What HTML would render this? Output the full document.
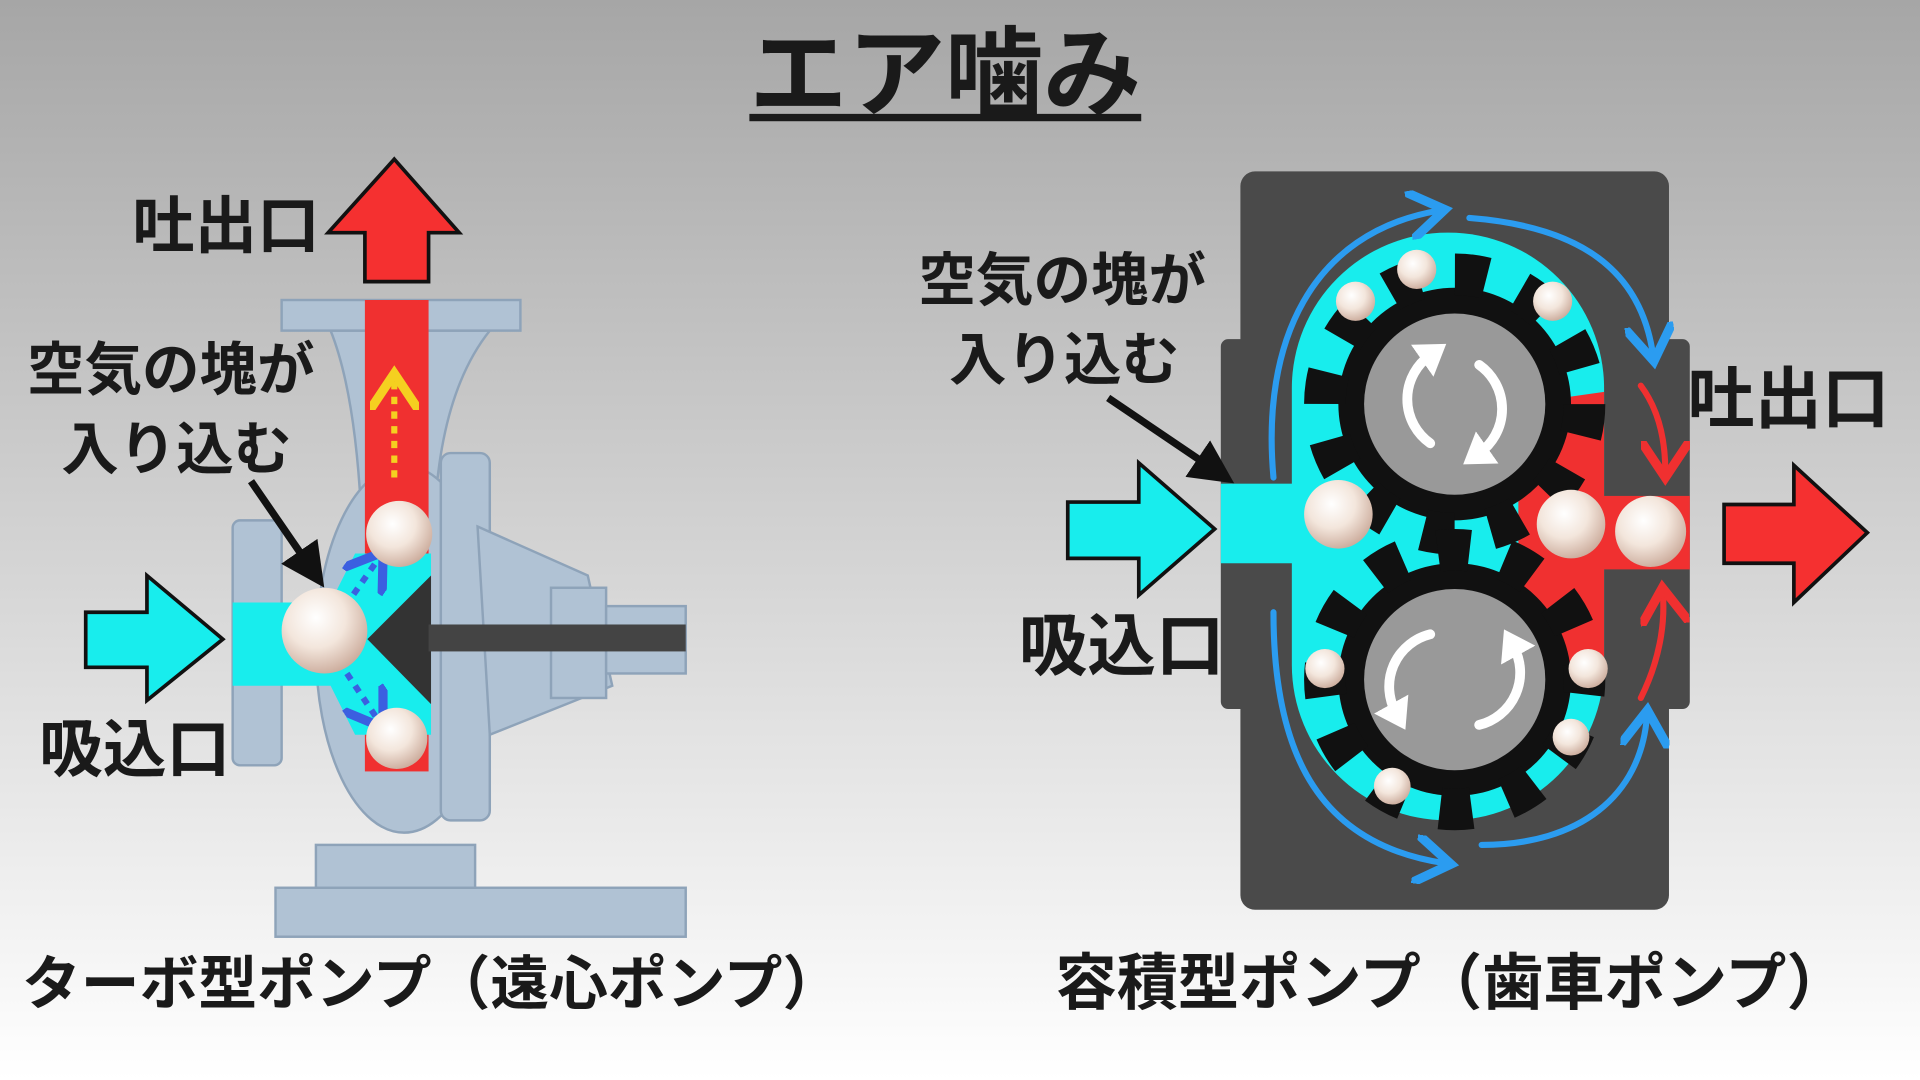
<!DOCTYPE html>
<html><head><meta charset="utf-8"><style>
html,body{margin:0;padding:0;width:1920px;height:1080px;overflow:hidden}
svg{display:block}
text{font-family:"Liberation Sans","Noto Sans CJK JP",sans-serif;font-weight:bold;fill:#1a1a1a}
</style></head><body>
<svg width="1920" height="1080" viewBox="0 0 1568 882" preserveAspectRatio="none" xmlns="http://www.w3.org/2000/svg">
<defs>
<linearGradient id="bg" x1="0" y1="0" x2="0" y2="1"><stop offset="0" stop-color="#a6a6a6"/><stop offset="1" stop-color="#ffffff"/></linearGradient>
<radialGradient id="pearl" cx="0.4" cy="0.35" r="0.7"><stop offset="0" stop-color="#ffffff"/><stop offset="0.5" stop-color="#f3e6dc"/><stop offset="1" stop-color="#c9a898"/></radialGradient>
<marker id="ah" markerWidth="8" markerHeight="8" refX="5" refY="4" orient="auto" markerUnits="strokeWidth"><path d="M0,0 L6,4 L0,8" fill="none" stroke="context-stroke" stroke-width="1.5"/></marker>
<marker id="wh" markerWidth="4" markerHeight="4" refX="1" refY="2" orient="auto" markerUnits="strokeWidth"><path d="M0,0 L3,2 L0,4z" fill="#fff"/></marker>
<marker id="bh" markerWidth="6" markerHeight="6" refX="4" refY="3" orient="auto"><path d="M0,0 L6,3 L0,6z" fill="#111"/></marker>
</defs>
<rect width="1568" height="882" fill="url(#bg)"/>
<text x="772" y="88" font-size="80" text-anchor="middle">エア噛み</text>
<rect x="612" y="93" width="320" height="6" fill="#1a1a1a"/>

<!-- left pump -->
<g fill="#b0c2d4" stroke="#8ea3b9" stroke-width="2">
<rect x="225" y="725" width="335" height="40"/>
<rect x="258" y="690" width="130" height="35"/>
<path d="M270,270 L400,270 Q360,320 355,420 L295,420 Q290,320 270,270z"/>
<ellipse cx="330" cy="530" rx="72" ry="150"/>
<rect x="360" y="370" width="40" height="300" rx="8"/>
<path d="M390,430 L480,470 L500,560 L400,600z"/>
<rect x="450" y="480" width="45" height="90"/>
<rect x="495" y="495" width="65" height="55"/>
<rect x="190" y="425" width="40" height="200" rx="6"/>
<rect x="230" y="245" width="195" height="25"/>
</g>
<rect x="298" y="245" width="52" height="385" fill="#f03030"/>
<polygon points="322,130 375,190 350,190 350,230 298,230 298,190 268,190" fill="#f53030" stroke="#111" stroke-width="3"/>
<path d="M190,492 L270,492 L290,452 L352,452 L352,600 L290,600 L270,560 L190,560z" fill="#18eded"/>
<polygon points="300,522 352,470 352,575" fill="#333"/>
<rect x="350" y="510" width="210" height="22" fill="#444"/>
<line x1="322" y1="390" x2="322" y2="310" stroke="#f5d020" stroke-width="5" stroke-dasharray="6,6" marker-end="url(#ah)"/>
<line x1="275" y1="505" x2="310" y2="455" stroke="#3b5fe0" stroke-width="5" stroke-dasharray="6,6" marker-end="url(#ah)"/>
<line x1="270" y1="530" x2="310" y2="590" stroke="#3b5fe0" stroke-width="5" stroke-dasharray="6,6" marker-end="url(#ah)"/>
<circle cx="326" cy="436" r="27" fill="url(#pearl)"/>
<circle cx="265" cy="515" r="35" fill="url(#pearl)"/>
<circle cx="324" cy="603" r="25" fill="url(#pearl)"/>
<polygon points="70,500 120,500 120,470 182,522 120,572 120,545 70,545" fill="#18eded" stroke="#111" stroke-width="3"/>
<line x1="205" y1="393" x2="258" y2="470" stroke="#111" stroke-width="6" marker-end="url(#bh)"/>
<text x="108" y="202" font-size="51">吐出口</text>
<text x="22" y="318" font-size="47">空気の塊が</text>
<text x="50" y="383" font-size="47">入り込む</text>
<text x="32" y="630" font-size="52">吸込口</text>
<text x="18" y="820" font-size="48">ターボ型ポンプ（遠心ポンプ）</text>

<!-- right gear pump -->
<rect x="1013" y="140" width="350" height="603" rx="12" fill="#4a4a4a"/>
<rect x="997" y="277" width="30" height="302" rx="6" fill="#4a4a4a"/>
<rect x="1350" y="277" width="30" height="302" rx="6" fill="#4a4a4a"/>
<rect x="1055" y="190" width="255" height="480" rx="127" fill="#18eded"/>
<path d="M1240,330 L1310,320 L1310,560 L1240,560z" fill="#f03030"/>
<rect x="997" y="395" width="65" height="65" fill="#18eded"/>
<rect x="1300" y="405" width="80" height="60" fill="#f03030"/>
<g>
<circle cx="1188" cy="330" r="95" fill="#111"/>
<circle cx="1188" cy="330" r="106" fill="none" stroke="#111" stroke-width="34" stroke-dasharray="26,29.5"/>
<circle cx="1188" cy="330" r="74" fill="#999"/>
<circle cx="1188" cy="555" r="95" fill="#111"/>
<circle cx="1188" cy="555" r="106" fill="none" stroke="#111" stroke-width="34" stroke-dasharray="26,29.5" stroke-dashoffset="14"/>
<circle cx="1188" cy="555" r="74" fill="#999"/>
</g>
<g fill="none" stroke="#fff" stroke-width="8" stroke-linecap="round">
<path d="M1168,362 A44,44 0 0 1 1168,290" marker-end="url(#wh)"/>
<path d="M1208,298 A44,44 0 0 1 1208,370" marker-end="url(#wh)"/>
<path d="M1168,518 A44,44 0 0 0 1140,582" marker-end="url(#wh)"/>
<path d="M1208,592 A44,44 0 0 0 1236,528" marker-end="url(#wh)"/>
</g>
<g fill="none" stroke="#2b9cf0" stroke-width="5" stroke-linecap="round">
<path d="M1040,390 C1030,280 1070,190 1175,172" marker-end="url(#ah)"/>
<path d="M1200,178 C1290,185 1340,220 1350,290" marker-end="url(#ah)"/>
<path d="M1040,500 C1040,620 1080,690 1180,705" marker-end="url(#ah)"/>
<path d="M1210,690 C1290,690 1340,650 1345,585" marker-end="url(#ah)"/>
</g>
<g fill="none" stroke="#f03030" stroke-width="5" stroke-linecap="round">
<path d="M1340,315 C1355,335 1360,360 1360,385" marker-end="url(#ah)"/>
<path d="M1340,570 C1355,540 1360,510 1358,485" marker-end="url(#ah)"/>
</g>
<g fill="url(#pearl)">
<circle cx="1157" cy="220" r="16"/><circle cx="1107" cy="246" r="16"/><circle cx="1268" cy="246" r="16"/>
<circle cx="1093" cy="420" r="28"/><circle cx="1283" cy="428" r="28"/><circle cx="1348" cy="434" r="29"/>
<circle cx="1082" cy="546" r="16"/><circle cx="1297" cy="546" r="16"/><circle cx="1283" cy="602" r="15"/><circle cx="1137" cy="642" r="15"/>
</g>
<polygon points="872,410 930,410 930,378 992,432 930,486 930,456 872,456" fill="#18eded" stroke="#111" stroke-width="3"/>
<polygon points="1408,412 1465,412 1465,380 1525,435 1465,492 1465,460 1408,460" fill="#f53030" stroke="#111" stroke-width="3"/>
<line x1="905" y1="325" x2="998" y2="388" stroke="#111" stroke-width="6" marker-end="url(#bh)"/>
<text x="750" y="245" font-size="47">空気の塊が</text>
<text x="775" y="310" font-size="47">入り込む</text>
<text x="1378" y="345" font-size="55">吐出口</text>
<text x="832" y="547" font-size="56">吸込口</text>
<text x="862" y="820" font-size="50">容積型ポンプ（歯車ポンプ）</text>
</svg>
</body></html>
